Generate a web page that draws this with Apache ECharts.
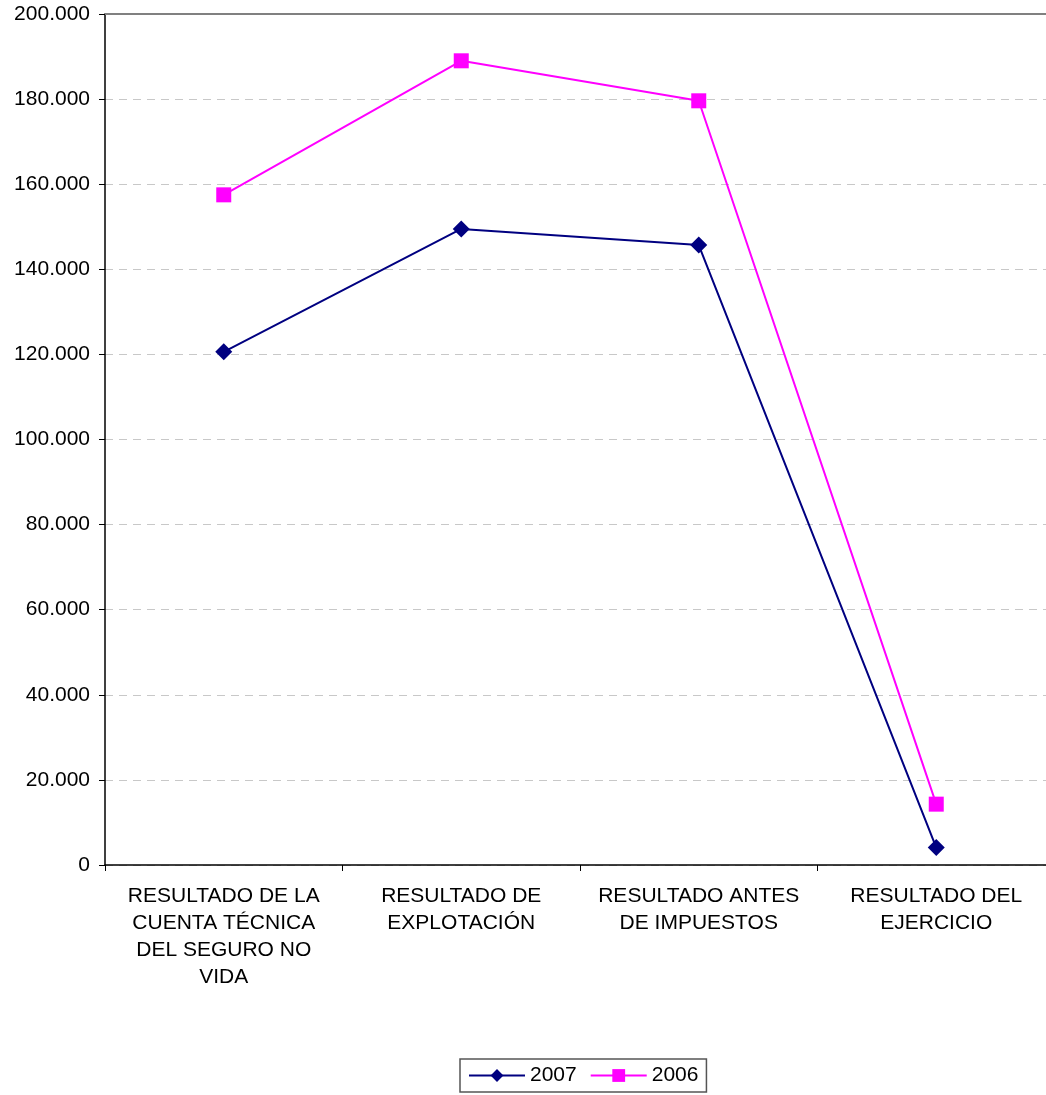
<!DOCTYPE html>
<html><head><meta charset="utf-8">
<script src="https://cdn.jsdelivr.net/npm/echarts@6/dist/echarts.min.js"></script>
<style>html,body{margin:0;padding:0;background:#fff;overflow:hidden}#c{width:1064px;height:1095px}</style>
</head><body><div id="c"></div>
<script>
const categories = ["RESULTADO DE LA\nCUENTA TÉCNICA\nDEL SEGURO NO\nVIDA", "RESULTADO DE\nEXPLOTACIÓN", "RESULTADO ANTES\nDE IMPUESTOS", "RESULTADO DEL\nEJERCICIO"];
const s2007 = [120600, 149500, 145700, 4100];
const s2006 = [157500, 189000, 179600, 14300];
const seriesNames = ["2007", "2006"];

const chart = echarts.init(document.getElementById('c'));
const fmt = v => v === 0 ? '0' : String(v).replace(/\B(?=(\d{3})+(?!\d))/g, '.');
chart.setOption({
  animation: false,
  textStyle: {fontFamily: 'Liberation Sans, Arial, sans-serif'},
  grid: {left: 105, top: 14, width: 950, height: 851, containLabel: false},
  legend: {
    top: 1059, left: 460,
    data: seriesNames,
    itemWidth: 56, itemHeight: 16, itemGap: 13,
    borderColor: '#555', borderWidth: 1.5, borderRadius: 0,
    padding: [6, 8, 6, 8],
    textStyle: {fontSize: 21, color: '#000', fontFamily: 'Liberation Sans, Arial, sans-serif'}
  },
  xAxis: [{
    type: 'category', data: categories, boundaryGap: true,
    axisLine: {lineStyle: {color: '#000', width: 1.5}},
    axisTick: {show: true, length: 6, lineStyle: {color: '#000'}},
    axisLabel: {fontSize: 21, color: '#000', lineHeight: 27, margin: 18, interval: 0, align: 'center'},
    splitLine: {show: false}
  }, {
    type: 'category', data: categories, position: 'top',
    axisLine: {show: true, lineStyle: {color: '#808080', width: 2}},
    axisTick: {show: false}, axisLabel: {show: false}
  }],
  yAxis: {
    type: 'value', min: 0, max: 200000, interval: 20000,
    axisLine: {show: true, lineStyle: {color: '#000', width: 1.5}},
    axisTick: {show: true, length: 6, lineStyle: {color: '#000'}},
    axisLabel: {fontSize: 21, color: '#000', margin: 15, formatter: fmt},
    splitLine: {show: true, lineStyle: {color: '#c8c8c8', type: [8, 6], width: 1}}
  },
  series: [{
    name: '2007', type: 'line', data: s2007,
    symbol: 'diamond', symbolSize: 17,
    lineStyle: {color: '#000080', width: 2},
    itemStyle: {color: '#000080'}
  }, {
    name: '2006', type: 'line', data: s2006,
    symbol: 'rect', symbolSize: 15,
    lineStyle: {color: '#ff00ff', width: 2},
    itemStyle: {color: '#ff00ff'}
  }]
});
</script></body></html>
